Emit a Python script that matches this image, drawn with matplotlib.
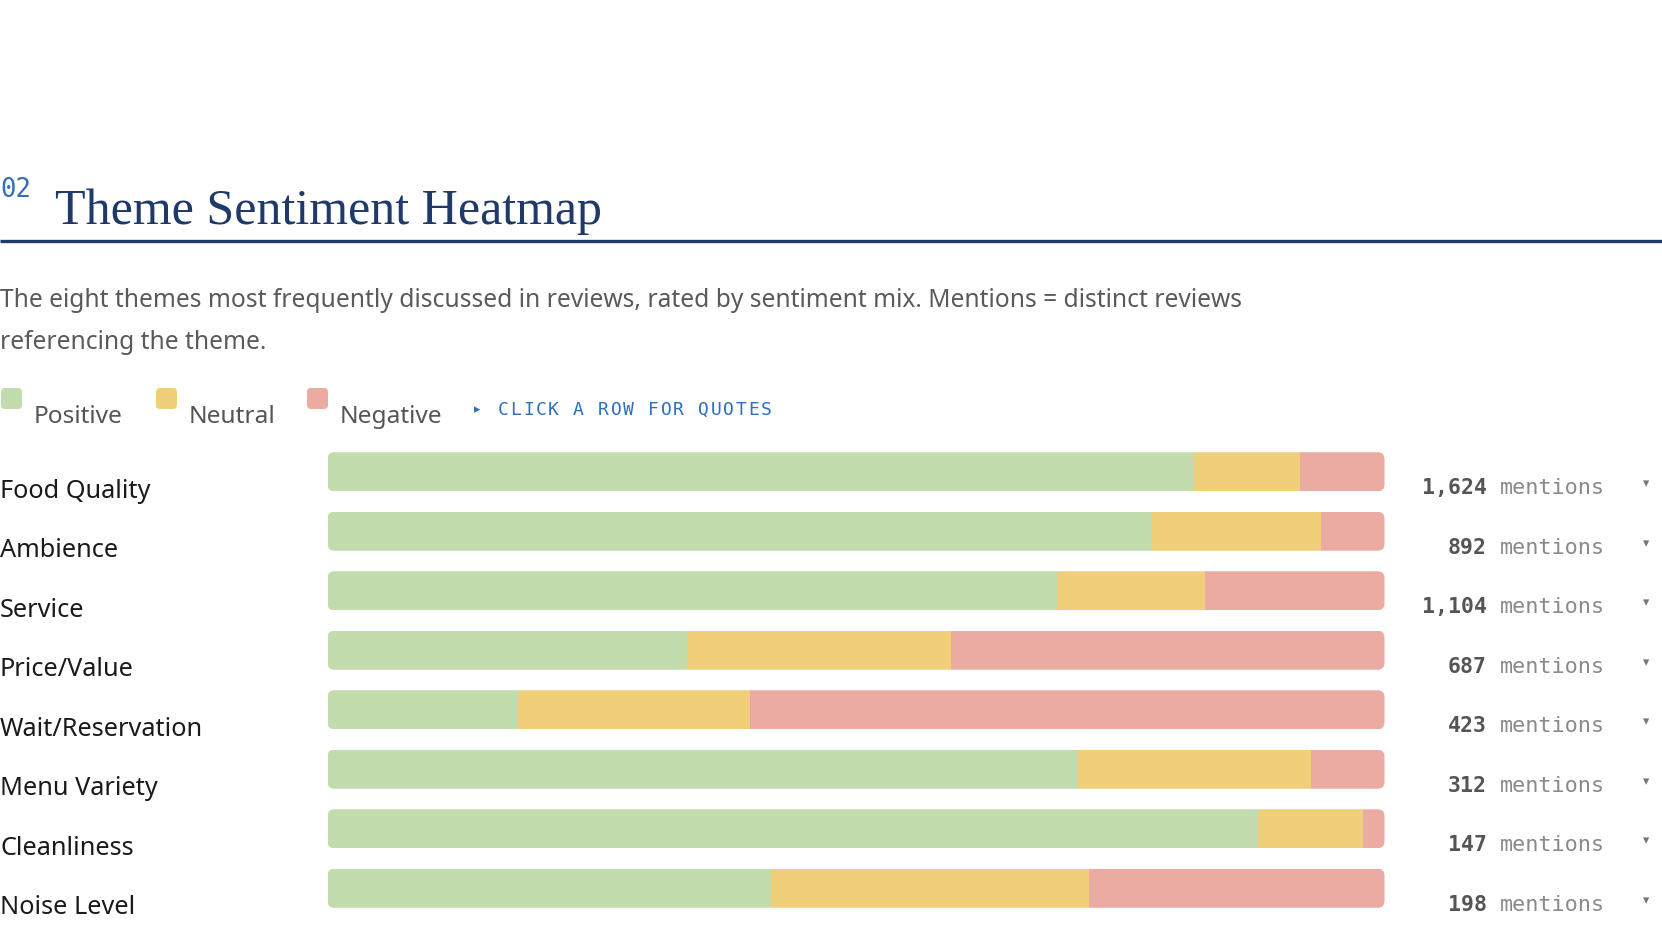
"""Theme sentiment heatmap: stacked 100% bars per review theme."""

import matplotlib.pyplot as plt
from matplotlib.patches import FancyBboxPatch
from matplotlib import transforms

themes = ["Food Quality", "Ambience", "Service", "Price/Value",
          "Wait/Reservation", "Menu Variety", "Cleanliness", "Noise Level"]
positive = [82, 78, 69, 34, 18, 71, 88, 42]
neutral = [10, 16, 14, 25, 22, 22, 10, 30]
negative = [8, 6, 17, 41, 60, 7, 2, 28]
mentions = [1624, 892, 1104, 687, 423, 312, 147, 198]

segments = ["Positive", "Neutral", "Negative"]
colors = ["#c3dcad", "#f1cf7a", "#ebaba3"]

NAVY = "#1f3a68"
BLUE = "#2f6fbf"

W, H = 1662, 946
fig = plt.figure(figsize=(W / 100, H / 100), dpi=100)
page = fig.add_axes([0, 0, 1, 1])
page.set_xlim(0, W)
page.set_ylim(H, 0)
page.axis("off")

# header
page.text(0, 190, "02", family="DejaVu Sans Mono", fontsize=18.5, color=BLUE, va="center")
page.text(55, 224, "Theme Sentiment Heatmap", family="Liberation Serif",
          fontsize=36, color=NAVY, va="baseline")
page.plot([0, W], [241, 241], color=NAVY, linewidth=2.4, solid_capstyle="butt")

desc = ["The eight themes most frequently discussed in reviews, rated by sentiment mix. "
        "Mentions = distinct reviews", "referencing the theme."]
for line, y in zip(desc, [300, 342]):
    page.text(0, y, line, family="Noto Sans", fontsize=17.7, color="#5a5a5a", va="center")

# legend
leg_x = [0, 155, 306]
for x, name, c in zip(leg_x, segments, colors):
    page.add_patch(FancyBboxPatch((x + 1, 388), 21, 21, boxstyle="round,pad=0,rounding_size=4",
                                  facecolor=c, edgecolor="none"))
    page.text(x + 34, 417, name, family="Noto Sans", fontsize=17.6, color="#555555", va="center")

page.text(474, 410, "▸", family="DejaVu Sans", fontsize=9, color=BLUE, va="center")
for i, ch in enumerate("CLICK A ROW FOR QUOTES"):
    page.text(498 + i * 12.5, 410, ch, family="DejaVu Sans Mono", fontsize=13,
              color=BLUE, va="center")

# bars
x0, x1 = 327.5, 1384.5
top, bottom = 442, 918
ax = fig.add_axes([x0 / W, 1 - bottom / H, (x1 - x0) / W, (bottom - top) / H])
ax.set_xlim(0, 100)
ax.set_ylim(len(themes) - 0.5, -0.5)
ax.axis("off")

bar_h = 0.655
px_x = (x1 - x0) / 100
px_y = (bottom - top) / len(themes)
aspect = px_x / px_y

left = [0] * len(themes)
for vals, c in zip([positive, neutral, negative], colors):
    bars = ax.barh(range(len(themes)), vals, left=left, height=bar_h, color=c, edgecolor="none")
    left = [l + v for l, v in zip(left, vals)]
    for i, b in enumerate(bars):
        clip = FancyBboxPatch((0, i - bar_h / 2), 100, bar_h,
                              boxstyle="round,pad=0,rounding_size=0.65",
                              mutation_aspect=aspect, transform=ax.transData,
                              facecolor="none", edgecolor="none")
        b.set_clip_path(clip)

# row labels and mention counts
tr = transforms.blended_transform_factory(page.transData, ax.transData)
for i, (name, m) in enumerate(zip(themes, mentions)):
    ax.text(0, i + 0.33, name, transform=tr, family="Noto Sans", fontsize=18.2,
            color="#1a1a1a", va="center", clip_on=False)
    ax.text(1487, i + 0.28, f"{m:,}", transform=tr, family="DejaVu Sans Mono",
            fontsize=15.5, fontweight="bold", color="#555555", va="center", ha="right",
            clip_on=False)
    ax.text(1500, i + 0.28, "mentions", transform=tr, family="DejaVu Sans Mono",
            fontsize=15.7, color="#8a8a8a", va="center", clip_on=False)
    ax.text(1646, i + 0.2, "▾", transform=tr, family="DejaVu Sans", fontsize=9,
            color="#777777", va="center", ha="center", clip_on=False)

fig.savefig("out.png", dpi=100)
